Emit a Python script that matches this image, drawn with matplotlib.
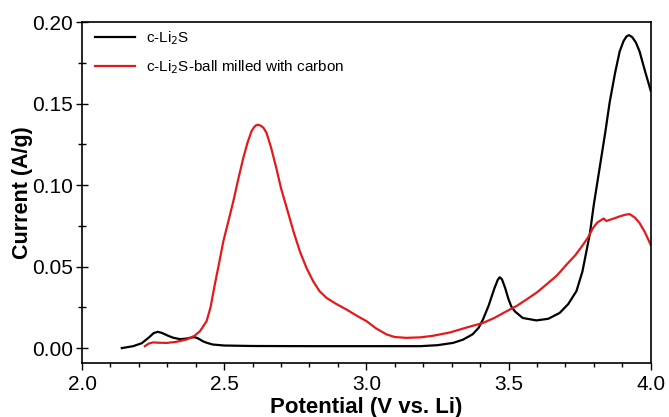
import matplotlib
matplotlib.use('Agg')
import matplotlib.pyplot as plt
from matplotlib.ticker import MultipleLocator

plt.rcParams['font.family'] = ['Liberation Sans', 'DejaVu Sans']

# c-Li2S
v_li2s = [2.14, 2.18, 2.21, 2.235, 2.252, 2.266, 2.28, 2.3, 2.32, 2.345, 2.365, 2.385, 2.397,
          2.41, 2.425, 2.44, 2.46, 2.5, 2.6, 2.8, 3.0, 3.19, 3.25, 3.305, 3.34, 3.374, 3.395,
          3.41, 3.43, 3.45, 3.462, 3.469, 3.477, 3.488, 3.5, 3.51, 3.522, 3.55, 3.598, 3.64,
          3.68, 3.71, 3.739, 3.76, 3.786, 3.8, 3.82, 3.84, 3.856, 3.875, 3.891, 3.905, 3.915,
          3.924, 3.935, 3.948, 3.961, 3.98, 4.0]
i_li2s = [0.0, 0.0012, 0.003, 0.0065, 0.0092, 0.010, 0.0094, 0.0078, 0.0064, 0.0055, 0.0058,
          0.0065, 0.0067, 0.0058, 0.0042, 0.0032, 0.0022, 0.0016, 0.0013, 0.0012, 0.0012,
          0.0012, 0.0018, 0.0032, 0.0052, 0.0085, 0.0125, 0.0175, 0.026, 0.0365, 0.0418,
          0.0435, 0.0422, 0.037, 0.030, 0.0255, 0.0226, 0.0185, 0.017, 0.018, 0.0216, 0.027,
          0.035, 0.047, 0.070, 0.088, 0.110, 0.132, 0.151, 0.169, 0.182, 0.1885, 0.1912,
          0.192, 0.1908, 0.1875, 0.182, 0.170, 0.158]

# c-Li2S ball milled with carbon
v_bm = [2.221, 2.235, 2.25, 2.27, 2.298, 2.33, 2.368, 2.395, 2.415, 2.438, 2.452, 2.467,
        2.482, 2.497, 2.515, 2.532, 2.55, 2.567, 2.582, 2.596, 2.605, 2.613, 2.62, 2.628,
        2.638, 2.649, 2.665, 2.684, 2.7, 2.72, 2.743, 2.766, 2.79, 2.813, 2.835, 2.86, 2.895,
        2.93, 2.965, 3.001, 3.035, 3.071, 3.1, 3.141, 3.19, 3.235, 3.294, 3.35, 3.411, 3.45,
        3.493, 3.53, 3.563, 3.6, 3.633, 3.67, 3.704, 3.735, 3.762, 3.78, 3.797, 3.812, 3.827,
        3.835, 3.844, 3.87, 3.891, 3.91, 3.926, 3.945, 3.961, 3.98, 4.0]
i_bm = [0.0012, 0.0028, 0.0035, 0.0033, 0.0032, 0.0038, 0.0053, 0.0075, 0.0104, 0.0165,
        0.025, 0.039, 0.052, 0.0655, 0.078, 0.090, 0.104, 0.1165, 0.126, 0.133, 0.1355,
        0.1368, 0.137, 0.1365, 0.1352, 0.132, 0.123, 0.110, 0.098, 0.086, 0.072, 0.0594,
        0.049, 0.041, 0.035, 0.0308, 0.027, 0.0237, 0.020, 0.0165, 0.012, 0.0084, 0.0068,
        0.0063, 0.0066, 0.0076, 0.0096, 0.0125, 0.0155, 0.0185, 0.0226, 0.026, 0.0298,
        0.0342, 0.039, 0.0445, 0.0512, 0.057, 0.0634, 0.068, 0.0736, 0.077, 0.0787, 0.0795,
        0.078, 0.0795, 0.0808, 0.0818, 0.0822, 0.080, 0.0767, 0.071, 0.0634]

fig = plt.figure(figsize=(6.69, 4.17), dpi=100)
ax = fig.add_axes([0.1226, 0.130, 0.850, 0.817])

ax.plot(v_li2s, i_li2s, color='black', lw=1.6, label='c-Li$_2$S')
ax.plot(v_bm, i_bm, color='#e31a1c', lw=1.6, label='c-Li$_2$S-ball milled with carbon')

ax.set_xlim(2.0, 4.0)
ax.set_ylim(-0.009, 0.2)
ax.xaxis.set_major_locator(MultipleLocator(0.5))
ax.xaxis.set_minor_locator(MultipleLocator(0.1))
ax.yaxis.set_major_locator(MultipleLocator(0.05))
ax.yaxis.set_minor_locator(MultipleLocator(0.025))
ax.xaxis.set_major_formatter(plt.FuncFormatter(lambda v, p: f'{v:.1f}'))
ax.yaxis.set_major_formatter(plt.FuncFormatter(lambda v, p: f'{v:.2f}'))
ax.tick_params(axis='x', which='major', direction='out', length=5, width=1, labelsize=15, pad=4)
ax.tick_params(axis='x', which='minor', direction='out', length=3, width=1)
ax.tick_params(axis='y', which='major', direction='inout', length=9, width=1, labelsize=15, pad=2)
ax.tick_params(axis='y', which='minor', direction='inout', length=6, width=1)
for s in ax.spines.values():
    s.set_linewidth(1.2)

ax.set_xlabel('Potential (V vs. Li)', fontsize=16, fontweight='bold', labelpad=2)
ax.set_ylabel('Current (A/g)', fontsize=15.5, fontweight='bold', labelpad=-1)

ax.legend(loc='upper left', frameon=False, fontsize=11, handlelength=2.6,
          handletextpad=0.75, labelspacing=0.72, borderaxespad=0.0,
          bbox_to_anchor=(0.012, 0.997))

fig.savefig('out.png', dpi=100, facecolor='white')
